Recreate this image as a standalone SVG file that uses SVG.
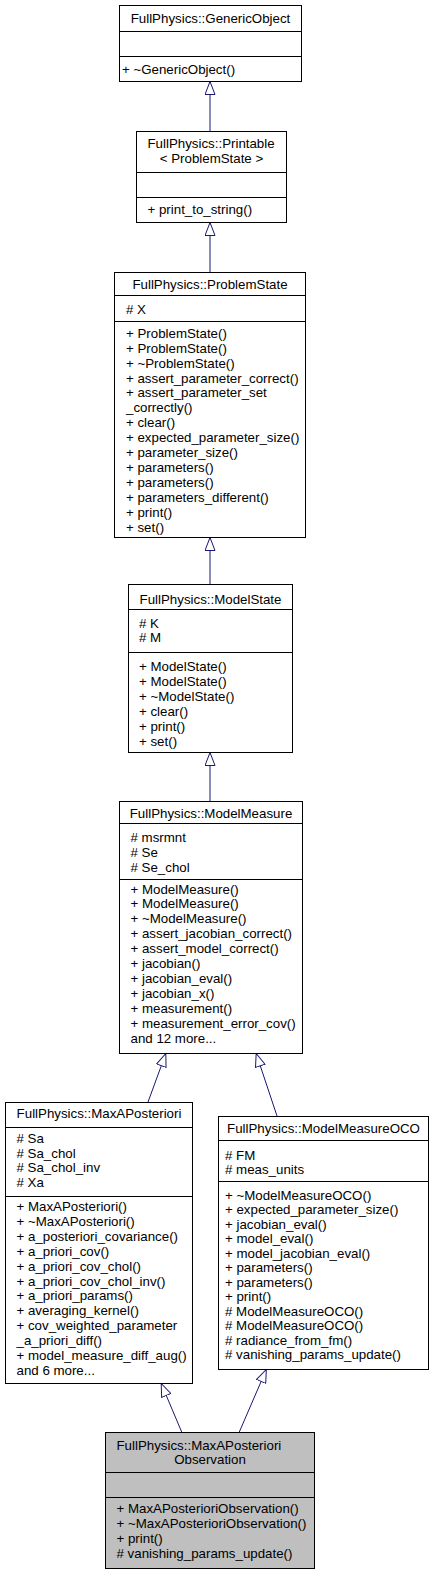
<svg xmlns="http://www.w3.org/2000/svg" width="435" height="1573" viewBox="0 0 435 1573">
<style>
.box{fill:#ffffff;stroke:#000000;stroke-width:1}
.cur{fill:#bfbfbf;stroke:#000000;stroke-width:1}
.div{stroke:#000000;stroke-width:1}
text{font-family:"Liberation Sans",Arial,sans-serif;font-size:13.3px;fill:#000000}
.c{text-anchor:middle}
.edge{stroke:#191970;stroke-width:1;fill:none}
</style>
<defs>
<marker id="inh" viewBox="0 0 14 11" refX="14" refY="5.5" markerWidth="14" markerHeight="11" markerUnits="userSpaceOnUse" orient="auto">
<path d="M0.5,0.5 L13.5,5.5 L0.5,10.5 z" fill="#ffffff" stroke="#191970" stroke-width="1"/>
</marker>
</defs>
<g id="connectors">
<line class="edge" x1="210" y1="131" x2="210" y2="81" marker-end="url(#inh)"/>
<line class="edge" x1="210" y1="272" x2="210" y2="222" marker-end="url(#inh)"/>
<line class="edge" x1="210" y1="584" x2="210" y2="537" marker-end="url(#inh)"/>
<line class="edge" x1="210" y1="801" x2="210" y2="752" marker-end="url(#inh)"/>
<line class="edge" x1="148" y1="1102" x2="166" y2="1053" marker-end="url(#inh)"/>
<line class="edge" x1="277" y1="1116" x2="256" y2="1053" marker-end="url(#inh)"/>
<line class="edge" x1="181.7" y1="1432" x2="161" y2="1383" marker-end="url(#inh)"/>
<line class="edge" x1="239.3" y1="1432" x2="266.5" y2="1369" marker-end="url(#inh)"/>
</g>
<g id="GenericObject">
<rect class="box" x="119.5" y="5.5" width="182" height="76"/>
<line class="div" x1="119.5" y1="31.5" x2="301.5" y2="31.5"/>
<line class="div" x1="119.5" y1="56.5" x2="301.5" y2="56.5"/>
<text class="c" x="210.5" y="22.5">FullPhysics::GenericObject</text>
<text x="122" y="73.5">+ ~GenericObject()</text>
</g>
<g id="Printable">
<rect class="box" x="136.5" y="131.5" width="150" height="91"/>
<line class="div" x1="136.5" y1="172.5" x2="286.5" y2="172.5"/>
<line class="div" x1="136.5" y1="197.5" x2="286.5" y2="197.5"/>
<text x="147.5" y="147.5">FullPhysics::Printable</text>
<text class="c" x="211.5" y="162.5">&lt; ProblemState &gt;</text>
<text x="147.5" y="213.5">+ print_to_string()</text>
</g>
<g id="ProblemState">
<rect class="box" x="114.5" y="272.5" width="191" height="265"/>
<line class="div" x1="114.5" y1="295.5" x2="305.5" y2="295.5"/>
<line class="div" x1="114.5" y1="321.5" x2="305.5" y2="321.5"/>
<text class="c" x="210" y="289">FullPhysics::ProblemState</text>
<text x="126" y="313.5"># X</text>
<text x="126" y="337.8">+ ProblemState()</text>
<text x="126" y="352.7">+ ProblemState()</text>
<text x="126" y="367.6">+ ~ProblemState()</text>
<text x="126" y="382.5">+ assert_parameter_correct()</text>
<text x="126" y="397.4">+ assert_parameter_set</text>
<text x="126" y="412.3">_correctly()</text>
<text x="126" y="427.2">+ clear()</text>
<text x="126" y="442.1">+ expected_parameter_size()</text>
<text x="126" y="457">+ parameter_size()</text>
<text x="126" y="471.9">+ parameters()</text>
<text x="126" y="486.8">+ parameters()</text>
<text x="126" y="501.7">+ parameters_different()</text>
<text x="126" y="516.6">+ print()</text>
<text x="126" y="531.5">+ set()</text>
</g>
<g id="ModelState">
<rect class="box" x="128.5" y="584.5" width="164" height="168"/>
<line class="div" x1="128.5" y1="609.5" x2="292.5" y2="609.5"/>
<line class="div" x1="128.5" y1="652.5" x2="292.5" y2="652.5"/>
<text class="c" x="210.5" y="604">FullPhysics::ModelState</text>
<text x="139" y="627.5"># K</text>
<text x="139" y="642"># M</text>
<text x="139" y="670.5">+ ModelState()</text>
<text x="139" y="685.6">+ ModelState()</text>
<text x="139" y="700.7">+ ~ModelState()</text>
<text x="139" y="715.8">+ clear()</text>
<text x="139" y="730.9">+ print()</text>
<text x="139" y="746">+ set()</text>
</g>
<g id="ModelMeasure">
<rect class="box" x="119.5" y="801.5" width="183" height="252"/>
<line class="div" x1="119.5" y1="823.5" x2="302.5" y2="823.5"/>
<line class="div" x1="119.5" y1="879.5" x2="302.5" y2="879.5"/>
<text class="c" x="211" y="817.5">FullPhysics::ModelMeasure</text>
<text x="130.5" y="842"># msrmnt</text>
<text x="130.5" y="856.8"># Se</text>
<text x="130.5" y="871.5"># Se_chol</text>
<text x="130.5" y="893.5">+ ModelMeasure()</text>
<text x="130.5" y="908.4">+ ModelMeasure()</text>
<text x="130.5" y="923.4">+ ~ModelMeasure()</text>
<text x="130.5" y="938.3">+ assert_jacobian_correct()</text>
<text x="130.5" y="953.2">+ assert_model_correct()</text>
<text x="130.5" y="968.2">+ jacobian()</text>
<text x="130.5" y="983.1">+ jacobian_eval()</text>
<text x="130.5" y="998">+ jacobian_x()</text>
<text x="130.5" y="1012.9">+ measurement()</text>
<text x="130.5" y="1027.9">+ measurement_error_cov()</text>
<text x="130.5" y="1042.8">and 12 more...</text>
</g>
<g id="MaxAPosteriori">
<rect class="box" x="5.5" y="1102.5" width="187" height="281"/>
<line class="div" x1="5.5" y1="1127.5" x2="192.5" y2="1127.5"/>
<line class="div" x1="5.5" y1="1196.5" x2="192.5" y2="1196.5"/>
<text class="c" x="99" y="1118">FullPhysics::MaxAPosteriori</text>
<text x="16.5" y="1142.8"># Sa</text>
<text x="16.5" y="1157.6"># Sa_chol</text>
<text x="16.5" y="1172.4"># Sa_chol_inv</text>
<text x="16.5" y="1187.2"># Xa</text>
<text x="16.5" y="1211.2">+ MaxAPosteriori()</text>
<text x="16.5" y="1226.1">+ ~MaxAPosteriori()</text>
<text x="16.5" y="1240.9">+ a_posteriori_covariance()</text>
<text x="16.5" y="1255.8">+ a_priori_cov()</text>
<text x="16.5" y="1270.6">+ a_priori_cov_chol()</text>
<text x="16.5" y="1285.5">+ a_priori_cov_chol_inv()</text>
<text x="16.5" y="1300.3">+ a_priori_params()</text>
<text x="16.5" y="1315.2">+ averaging_kernel()</text>
<text x="16.5" y="1330">+ cov_weighted_parameter</text>
<text x="16.5" y="1344.9">_a_priori_diff()</text>
<text x="16.5" y="1359.7">+ model_measure_diff_aug()</text>
<text x="16.5" y="1374.6">and 6 more...</text>
</g>
<g id="ModelMeasureOCO">
<rect class="box" x="218.5" y="1116.5" width="210" height="253"/>
<line class="div" x1="218.5" y1="1140.5" x2="428.5" y2="1140.5"/>
<line class="div" x1="218.5" y1="1181.5" x2="428.5" y2="1181.5"/>
<text class="c" x="323.5" y="1133">FullPhysics::ModelMeasureOCO</text>
<text x="225" y="1159.5"># FM</text>
<text x="225" y="1174"># meas_units</text>
<text x="225" y="1199.5">+ ~ModelMeasureOCO()</text>
<text x="225" y="1214">+ expected_parameter_size()</text>
<text x="225" y="1228.5">+ jacobian_eval()</text>
<text x="225" y="1243">+ model_eval()</text>
<text x="225" y="1257.5">+ model_jacobian_eval()</text>
<text x="225" y="1272">+ parameters()</text>
<text x="225" y="1286.5">+ parameters()</text>
<text x="225" y="1301">+ print()</text>
<text x="225" y="1315.5"># ModelMeasureOCO()</text>
<text x="225" y="1330"># ModelMeasureOCO()</text>
<text x="225" y="1344.5"># radiance_from_fm()</text>
<text x="225" y="1359"># vanishing_params_update()</text>
</g>
<g id="MaxAPosterioriObservation">
<rect class="cur" x="105.5" y="1432.5" width="209" height="136"/>
<line class="div" x1="105.5" y1="1472.5" x2="314.5" y2="1472.5"/>
<line class="div" x1="105.5" y1="1497.5" x2="314.5" y2="1497.5"/>
<text x="116.5" y="1449.5">FullPhysics::MaxAPosteriori</text>
<text class="c" x="210" y="1464">Observation</text>
<text x="116.5" y="1512.8">+ MaxAPosterioriObservation()</text>
<text x="116.5" y="1527.8">+ ~MaxAPosterioriObservation()</text>
<text x="116.5" y="1542.8">+ print()</text>
<text x="116.5" y="1557.8"># vanishing_params_update()</text>
</g>
</svg>
